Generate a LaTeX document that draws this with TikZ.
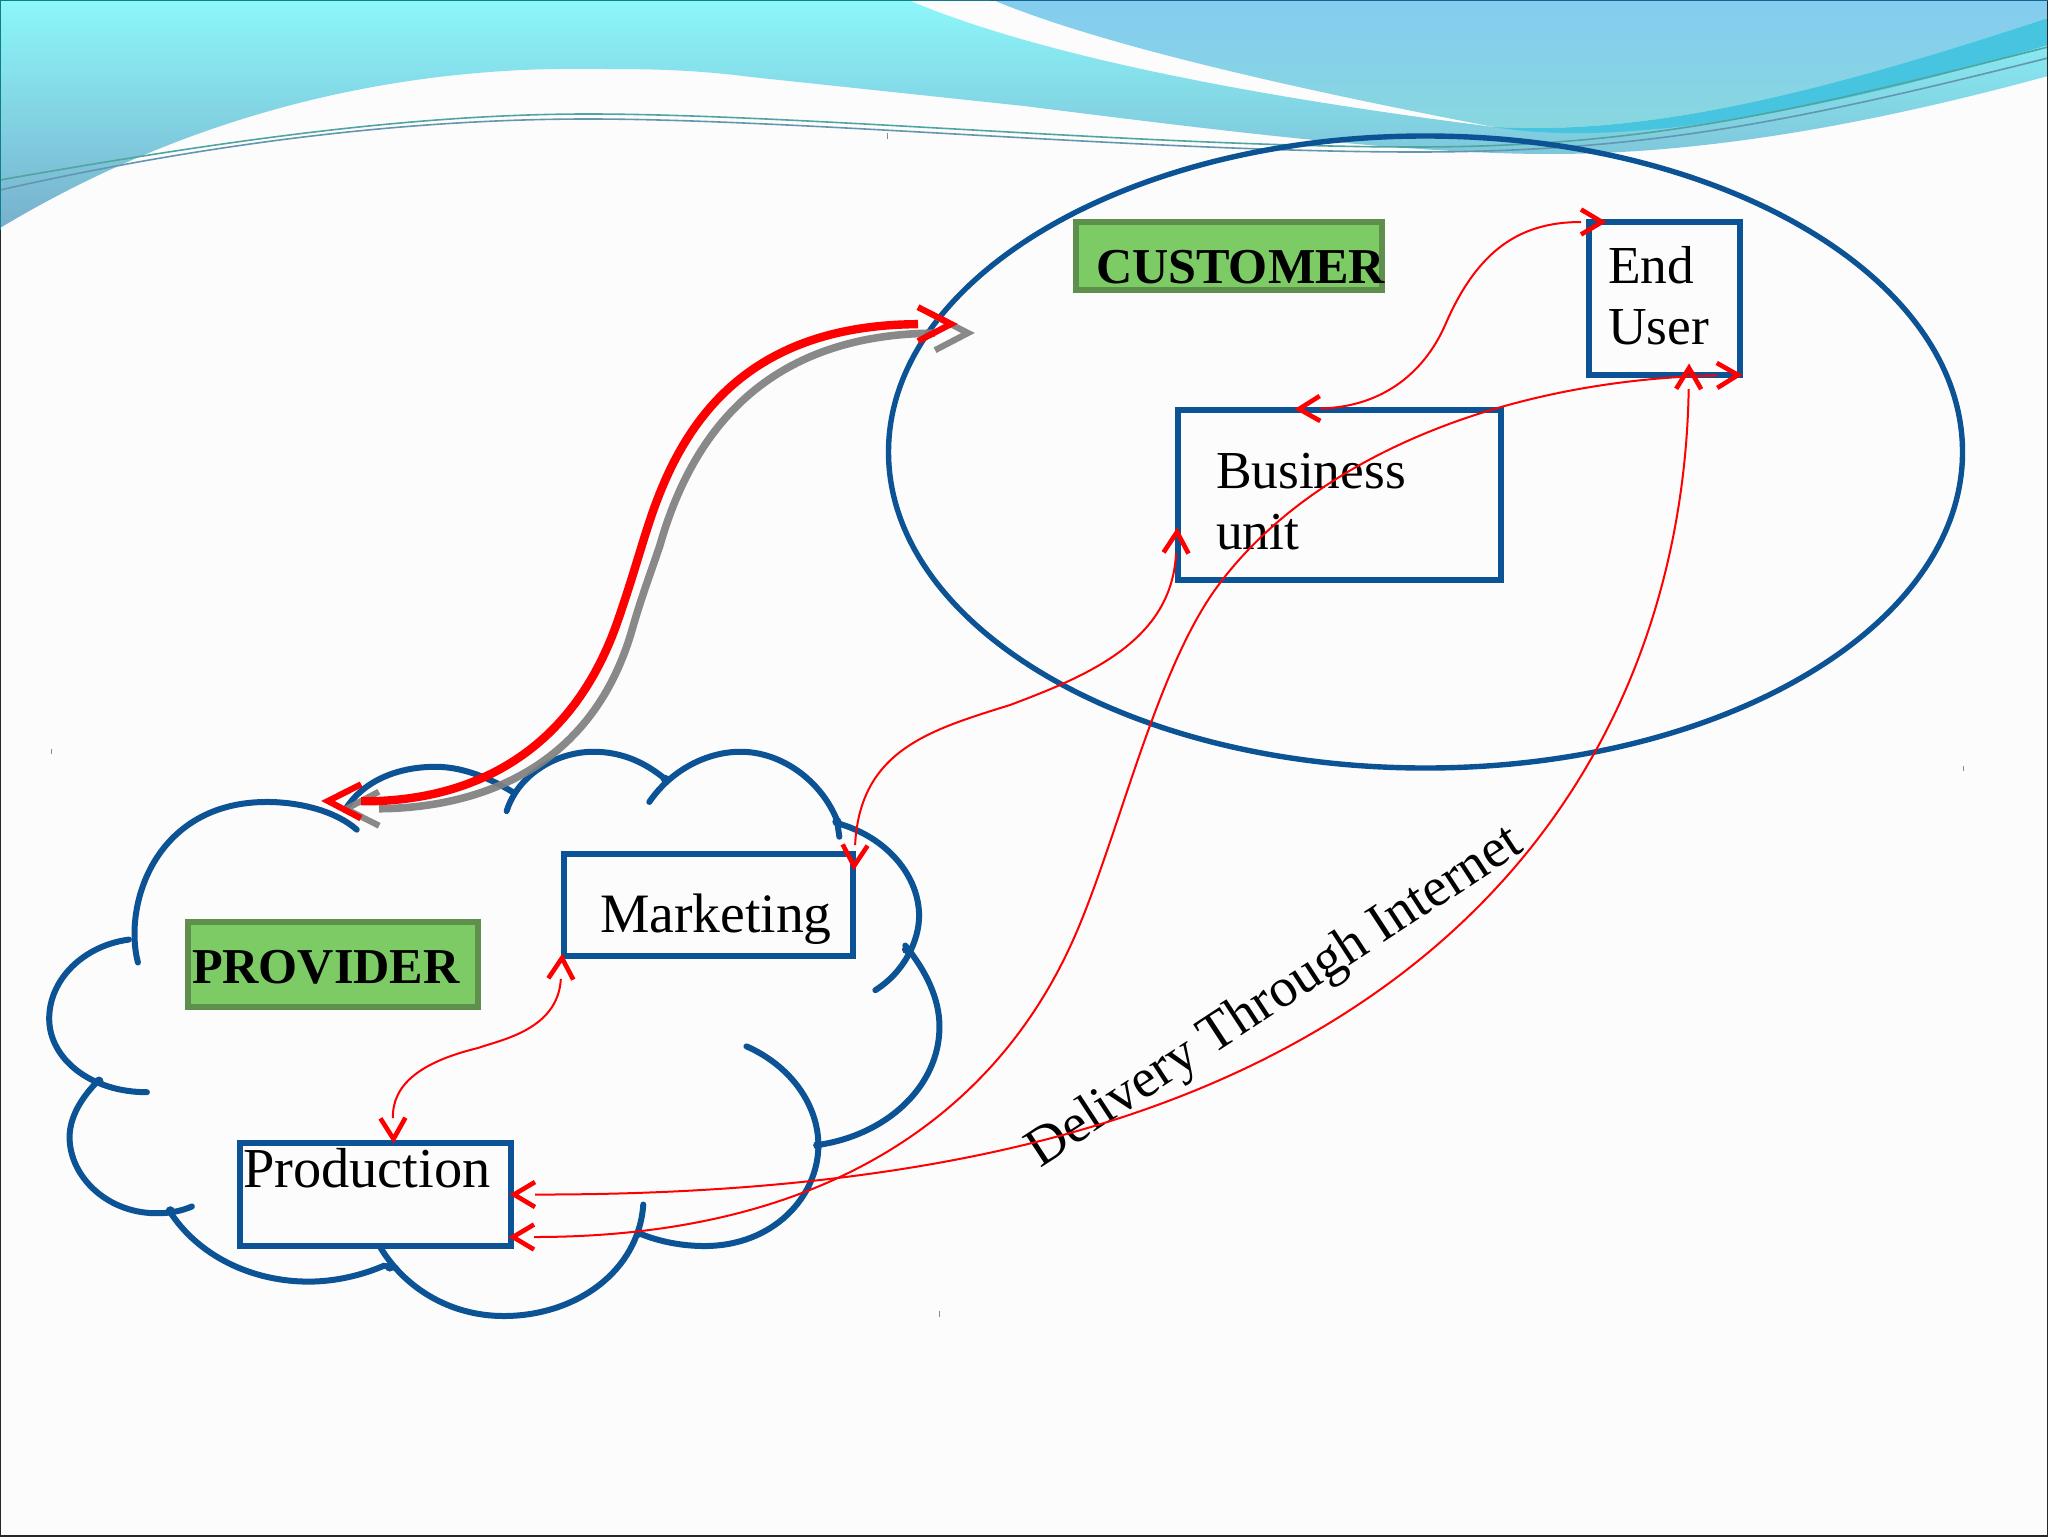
\documentclass[tikz,border=0pt]{standalone}
\usepackage{fontspec}
\setmainfont{Liberation Serif}
\usetikzlibrary{arrows.meta,calc,shapes.geometric}
\definecolor{pagebg}{HTML}{FCFCFD}
\definecolor{navy}{HTML}{0B5394}
\definecolor{leaf}{HTML}{7DCB64}
\definecolor{leafdark}{HTML}{5F8F4C}
\definecolor{bandtop}{HTML}{8CF7FA}
\definecolor{bandmid}{HTML}{83DAEA}
\definecolor{bandlow}{HTML}{78B0CC}
\definecolor{skytop}{HTML}{84CCF0}
\definecolor{skylow}{HTML}{88D8DE}
\definecolor{overlap}{HTML}{46C4E0}
\definecolor{swooshA}{HTML}{50A5A0}
\definecolor{swooshB}{HTML}{6496AF}
\definecolor{edgeA}{HTML}{0F7D8C}
\definecolor{edgeB}{HTML}{14648C}
% open V tip: the line stops at the root of the barbs, as in the reference
\pgfdeclarearrow{
  name=OpenVee,
  parameters={\the\pgfarrowlength,\the\pgfarrowwidth,\the\pgfarrowlinewidth},
  setup code={
    \pgfarrowssettipend{\pgfarrowlength}
    \pgfarrowssetlineend{0pt}
    \pgfarrowssetbackend{0pt}
    \pgfarrowssetvisualbackend{0pt}
    \pgfarrowshullpoint{\pgfarrowlength}{0pt}
    \pgfarrowsupperhullpoint{0pt}{.5\pgfarrowwidth}
    \pgfarrowssavethe\pgfarrowlength
    \pgfarrowssavethe\pgfarrowwidth
    \pgfarrowssavethe\pgfarrowlinewidth
  },
  drawing code={
    \pgfsetlinewidth{\pgfarrowlinewidth}
    \pgfsetdash{}{0pt}
    \pgfsetmiterjoin
    \pgfsetbuttcap
    \pgfpathmoveto{\pgfqpoint{0pt}{.5\pgfarrowwidth}}
    \pgfpathlineto{\pgfqpoint{\pgfarrowlength}{0pt}}
    \pgfpathlineto{\pgfqpoint{0pt}{-.5\pgfarrowwidth}}
    \pgfusepathqstroke
  },
  defaults={length=10pt,width=12pt,line width=2pt}
}
\tikzset{
  ringnode/.style={draw=navy,line width=2.7pt,outer sep=0pt,inner sep=0pt},
  boxnode/.style={draw=navy,line width=2.9pt,outer sep=0pt,inner sep=0pt},
  tagnode/.style={draw=leafdark,fill=leaf,line width=3pt,outer sep=0pt,inner sep=0pt},
  plain/.style={inner sep=0pt,outer sep=0pt,anchor=base west,align=left,font=\fontsize{26.7}{30.5}\selectfont},
  tagtext/.style={inner sep=0pt,outer sep=0pt,anchor=base west,font=\fontsize{25.1}{30}\selectfont\bfseries},
  cloudarc/.style={draw=navy,line width=3pt,line cap=round},
  blob/.style={fill=navy},
  thintip/.tip={OpenVee[length=10.5pt,width=12.5pt,line width=2.3pt]},
  thicktip/.tip={OpenVee[length=16.5pt,width=17pt,line width=3.1pt]},
  thinlink/.style={draw=red,line width=1pt,thintip-thintip},
  redlink/.style={draw=red,line width=4.2pt,thicktip-thicktip},
  greylink/.style={draw=black!50,line width=3.8pt,opacity=.92,thicktip-thicktip},
  swoosh/.style={line width=.8pt},
  tick/.style={draw=black!45,line width=.3pt},
  zthree/.style={shift={(30,730)},x=0.29976pt,y=-0.19771pt},
  zfive/.style={shift={(300,280)},x=0.22957pt,y=-0.17857pt},
}
\begin{document}
\begin{tikzpicture}[x=0.5pt,y=-0.5pt]
\useasboundingbox (0,0) rectangle (2048,1536);
\fill[pagebg] (0,0) rectangle (2048,1536);
% background waves
\shade[top color=bandtop,middle color=bandmid,bottom color=bandlow]
  (0,0) -- (908,0) .. controls (1050,60) and (1280,100) .. (1494,127)
  .. controls (1640,135) and (1800,100) .. (2048,18) -- (2048,76)
  .. controls (1850,130) and (1690,154) .. (1550,154)
  .. controls (1400,154) and (1200,128) .. (1024,106) -- (751,77)
  .. controls (690,69) and (640,69) .. (600,69)
  .. controls (450,66) and (230,90) .. (0,228) -- cycle;
\shade[top color=skytop,bottom color=skylow]
  (993,0) -- (2048,0) -- (2048,18) .. controls (1800,100) and (1640,135) .. (1494,127)
  .. controls (1300,90) and (1100,45) .. (993,0) -- cycle;
\fill[overlap] (1494,127) .. controls (1640,135) and (1800,100) .. (2048,18) -- (2048,45)
  .. controls (1780,125) and (1600,145) .. (1494,127) -- cycle;
\draw[swoosh,draw=swooshA] (0,180) .. controls (200,145) and (400,114) .. (588,114)
  .. controls (800,114) and (1150,147) .. (1416,147) .. controls (1650,147) and (1800,110) .. (2048,47);
\draw[swoosh,draw=swooshB] (0,190) .. controls (200,145) and (400,119) .. (588,119)
  .. controls (800,119) and (1150,152) .. (1416,152) .. controls (1650,152) and (1800,120) .. (2048,58);
% small stray ticks
\draw[tick] (887,133) -- (887,139);
\draw[tick] (51,749) -- (51,754);
\draw[tick] (939,1311) -- (939,1317);
\draw[tick] (1963,766) -- (1963,771);
% page edge
\draw[draw=black!85,line width=1.2pt] (0,0) rectangle (2048,1536);
\draw[draw=edgeA,line width=1.2pt] (0,230) -- (0,0) -- (990,0);
\draw[draw=edgeB,line width=1.2pt] (990,0) -- (2048,0);
% customer ellipse
\node[ellipse,ringnode,minimum width=537pt,minimum height=316pt] (customer) at (1425.5,452) {};
% cloud
\begin{scope}[zthree]
\draw[cloudarc] (180,588) .. controls (155,440) and (210,182) .. (395,182) .. controls (450,182) and (510,205) .. (545,252);
\draw[cloudarc] (165,530) .. controls (90,545) and (32,630) .. (32,730) .. controls (32,830) and (100,916) .. (195,916);
\draw[cloudarc] (115,885) .. controls (85,930) and (66,980) .. (66,1030) .. controls (66,1130) and (130,1225) .. (215,1222) .. controls (235,1222) and (255,1215) .. (270,1205);
\draw[cloudarc] (232,1215) .. controls (280,1330) and (370,1395) .. (465,1395) .. controls (510,1395) and (555,1378) .. (590,1355) -- (610,1360);
\draw[cloudarc] (585,1310) .. controls (625,1410) and (700,1482) .. (790,1482) .. controls (910,1482) and (1015,1370) .. (1023,1200);
\draw[cloudarc] (1015,1272) .. controls (1050,1295) and (1090,1305) .. (1125,1305) .. controls (1240,1305) and (1315,1180) .. (1315,1050) .. controls (1315,950) and (1270,850) .. (1195,800);
\draw[cloudarc] (1312,1050) .. controls (1430,1025) and (1517,900) .. (1517,750) .. controls (1517,680) and (1495,610) .. (1460,545);
\draw[cloudarc] (1410,658) .. controls (1460,610) and (1483,530) .. (1483,470) .. controls (1483,370) and (1430,270) .. (1345,235);
\draw[cloudarc] (1350,270) -- (1346,228) .. controls (1320,130) and (1255,55) .. (1185,55) .. controls (1130,55) and (1070,100) .. (1033,182);
\draw[cloudarc] (1060,125) .. controls (1025,80) and (985,55) .. (940,55) .. controls (880,55) and (815,110) .. (795,205);
\foreach \bx/\by in {1060/125,1346/232,115/888,1462/555,1314/1050,234/1216,1016/1272,600/1358}
  \fill[blob] (\bx,\by) circle [radius=2.3pt];
\end{scope}
\begin{scope}[zfive]
\draw[cloudarc] (100,1480) .. controls (140,1400) and (215,1363) .. (295,1363) .. controls (360,1363) and (420,1400) .. (465,1435);
\end{scope}
% boxes
\node[boxnode,minimum width=75.5pt,minimum height=76.5pt] (enduser) at (1664.5,298.5) {};
\node[boxnode,minimum width=161.5pt,minimum height=85pt] (business) at (1339.5,495) {};
\node[boxnode,minimum width=144.5pt,minimum height=51pt] (marketing) at (708.5,905) {};
\node[boxnode,minimum width=135.5pt,minimum height=51.5pt] (production) at (375.5,1194.5) {};
\node[tagnode,minimum width=153pt,minimum height=34pt] (custtag) at (1229,256) {};
\node[tagnode,minimum width=145pt,minimum height=42.5pt] (provtag) at (333,964.5) {};
% text
\node[tagtext] (custtext) at (1096,283) {CUSTOMER};
\node[tagtext] (provtext) at (192,983) {PROVIDER};
\node[plain] (endusertext) at (1608,344) {End\\User};
\node[plain] (businesstext) at (1216,549) {Business\\unit};
\node[plain,font=\fontsize{27.8}{30.5}\selectfont] (marketingtext) at (600,932) {Marketing};
\node[plain,font=\fontsize{28.2}{30.5}\selectfont] (productiontext) at (243,1187) {Production};
\node[plain,rotate=33.2,font=\fontsize{27.5}{30}\selectfont] (delivery) at (1040,1168) {Delivery Through Internet};
% thick links
\coordinate (ga) at (346,809);
\coordinate (gb) at (968,333);
\coordinate (ra) at (328,801);
\coordinate (rb) at (951,324);
\draw[greylink] (ga) .. controls (470,808) and (590,775) .. (632,630) .. controls (642,595) and (650,575) .. (660,545) .. controls (690,440) and (760,334) .. (gb);
\draw[redlink] (ra) .. controls (450,802) and (565,770) .. (617,623) .. controls (632,580) and (640,550) .. (650,520) .. controls (680,430) and (740,325) .. (rb);
% thin links
\draw[thinlink] ($(enduser.north west)+(13,0)$) .. controls (1520,222) and (1478,250) .. (1446,323) .. controls (1426,370) and (1385,407) .. ($(business.north)+(-40.5,-1)$);
\draw[thinlink] ($(enduser.south east)+(-2,0)$) .. controls (1500,380) and (1310,460) .. (1217,587) .. controls (1160,665) and (1125,810) .. (1084,914) .. controls (1050,1000) and (940,1237) .. ($(production.south east)+(2,-9)$);
\draw[thinlink] ($(enduser.south)+(24.5,-7)$) .. controls (1686,560) and (1630,800) .. (1400,975) .. controls (1215,1115) and (950,1195) .. ($(production.east)+(3,0)$);
\draw[thinlink] ($(business.west)+(-1,37)$) .. controls (1172,640) and (1090,675) .. (1010,705) .. controls (930,730) and (860,750) .. ($(marketing.north east)+(1,12)$);
\draw[thinlink] ($(marketing.south west)+(-2,2)$) .. controls (558,1030) and (500,1040) .. (478,1048) .. controls (420,1062) and (392,1085) .. ($(production.north)+(18,-4)$);
\end{tikzpicture}
\end{document}
